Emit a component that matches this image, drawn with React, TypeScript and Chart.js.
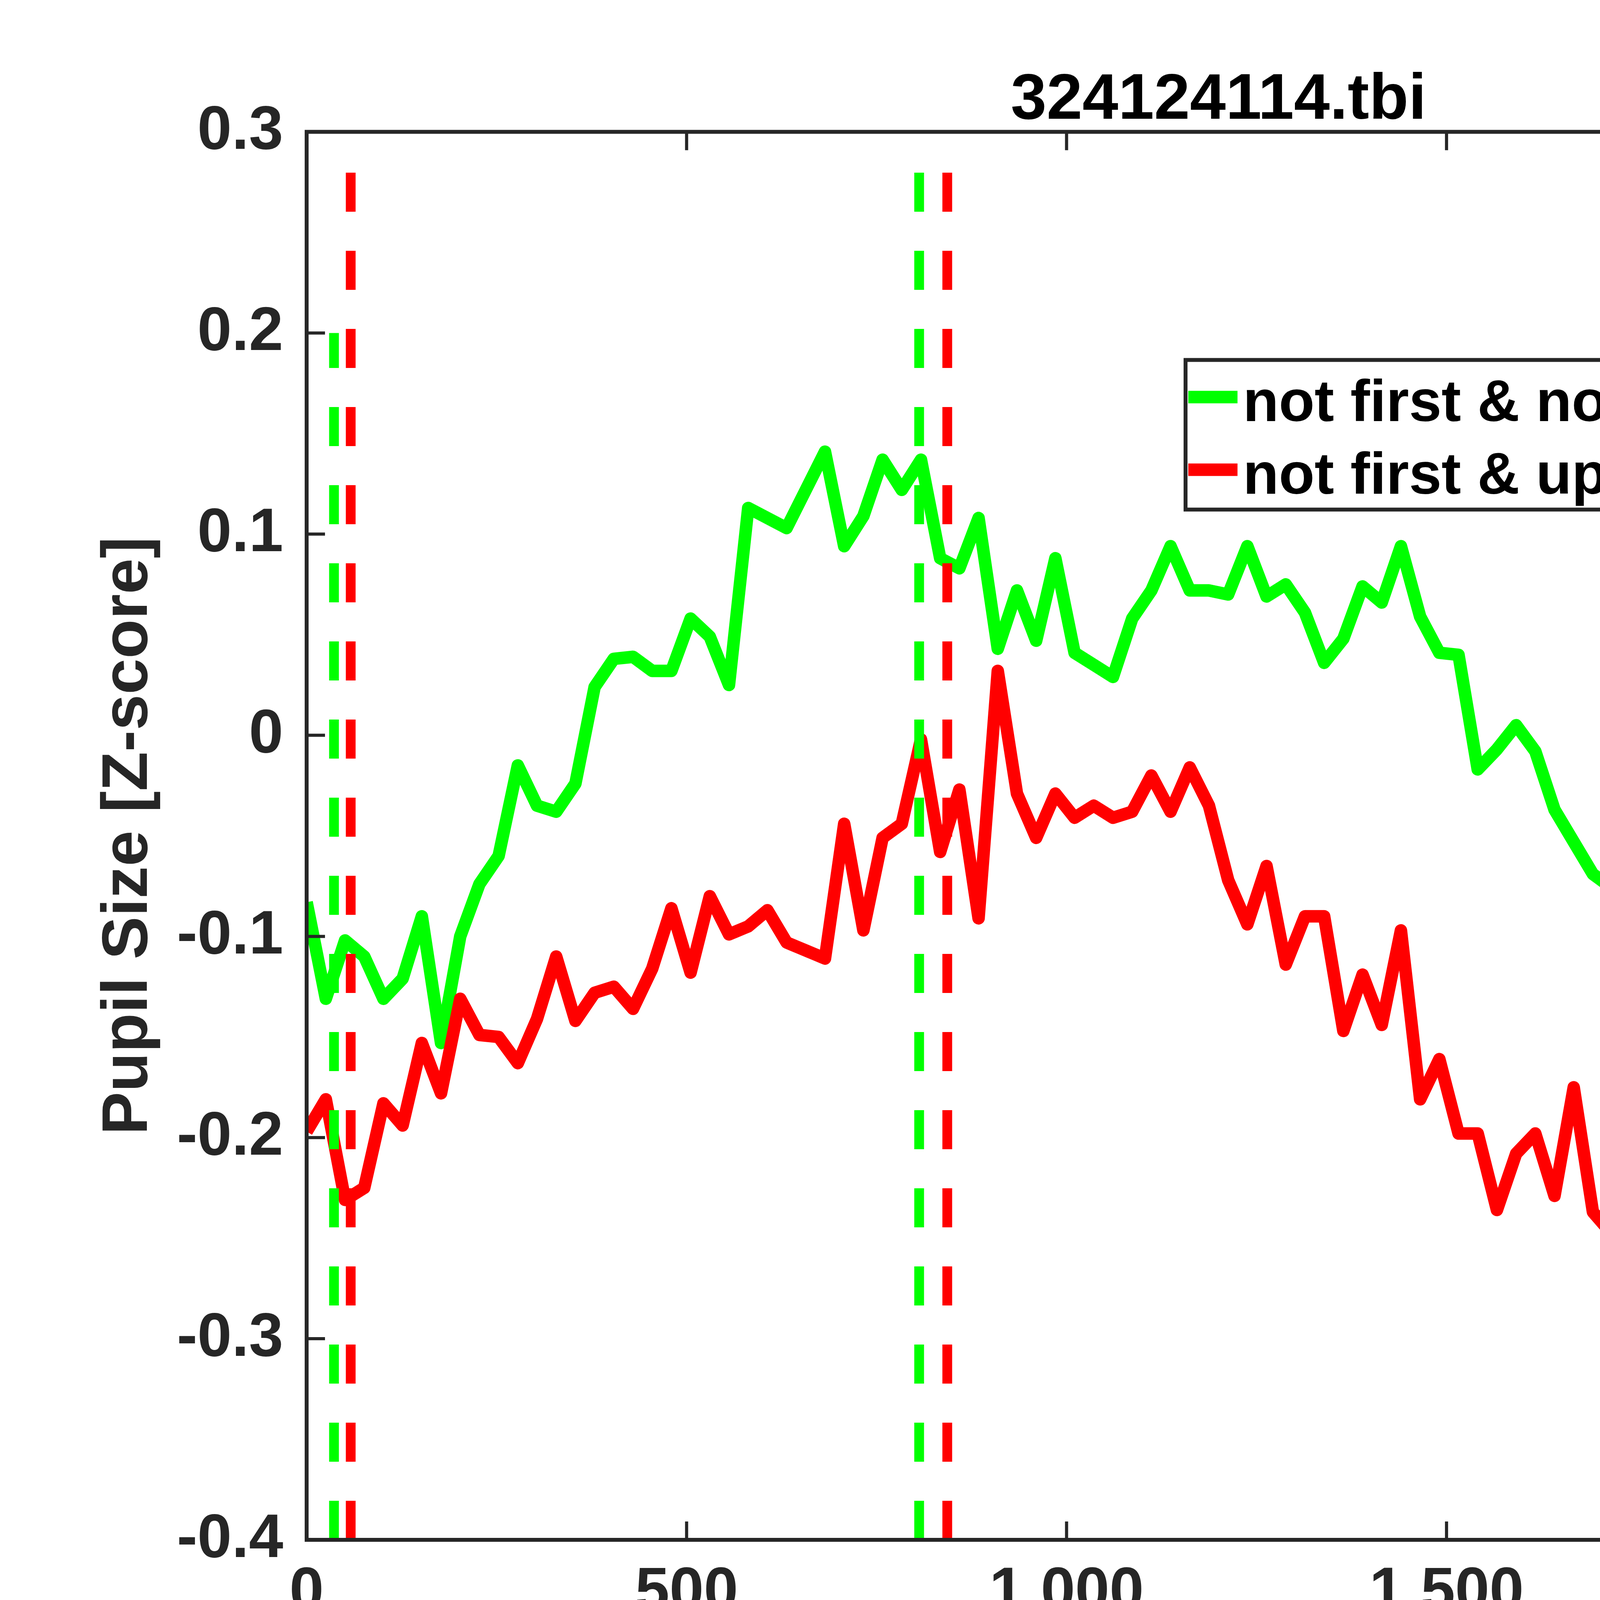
import { useEffect, useRef } from "react"
import { Chart, registerables } from "chart.js"

Chart.register(...registerables)

// samples are evenly spaced over the 2.4 s window
const SAMPLE_MS = 2400 / 95

// not first & no update & correct (green)
const noUpdateCorrect = [
  -0.083, -0.131, -0.102, -0.11, -0.131, -0.121, -0.09, -0.153, -0.1, -0.074,
  -0.06, -0.015, -0.035, -0.038, -0.024, 0.024, 0.038, 0.039, 0.032, 0.032,
  0.058, 0.049, 0.025, 0.113, 0.108, 0.103, 0.122, 0.141, 0.094, 0.109,
  0.137, 0.122, 0.137, 0.088, 0.083, 0.108, 0.043, 0.072, 0.047, 0.088,
  0.041, 0.035, 0.029, 0.058, 0.072, 0.094, 0.072, 0.072, 0.07, 0.094,
  0.069, 0.075, 0.061, 0.036, 0.048, 0.074, 0.066, 0.094, 0.059, 0.041,
  0.04, -0.017, -0.007, 0.005, -0.008, -0.037, -0.053, -0.069, -0.076, -0.052,
  -0.064, -0.017, -0.02, 0.011, -0.03, -0.07, -0.007, -0.04, -0.056, -0.008,
  -0.057, -0.012, -0.047, -0.008, -0.059, -0.043, -0.004, 0.011, 0.025, 0.033,
  0.014, 0.02, 0.044, 0.055,
]

// not first & update & correct (red)
const updateCorrect = [
  -0.197, -0.181, -0.231, -0.225, -0.183, -0.194, -0.153, -0.178, -0.131, -0.149,
  -0.15, -0.163, -0.141, -0.11, -0.142, -0.128, -0.125, -0.136, -0.116, -0.086,
  -0.118, -0.08, -0.099, -0.095, -0.087, -0.103, -0.107, -0.111, -0.044, -0.097,
  -0.051, -0.044, -0.002, -0.058, -0.027, -0.091, 0.032, -0.029, -0.051, -0.029,
  -0.041, -0.035, -0.041, -0.038, -0.02, -0.038, -0.016, -0.035, -0.072, -0.094,
  -0.065, -0.114, -0.09, -0.09, -0.147, -0.119, -0.144, -0.097, -0.181, -0.161,
  -0.198, -0.198, -0.236, -0.208, -0.198, -0.229, -0.175, -0.237, -0.248, -0.274,
  -0.301, -0.231, -0.197, -0.17, -0.184, -0.159, -0.144, -0.139, -0.093, -0.147,
  -0.091, -0.113, -0.02, 0.007, -0.057, -0.118, -0.054, -0.082, -0.047, -0.054,
  -0.044, -0.035, -0.018, -0.002, 0.046, 0.001,
]

// event markers (ms) and the height each dashed line reaches
const noUpdateEvents = [36, 806, 2271]
const noUpdateEventTops = [0.2, 0.3, 0.3]
const updateEvents = [58, 843, 2352]
const updateEventTops = [0.3, 0.3, 0.3]

const xTicks = [0, 500, 1000, 1500, 2000]
const yTicks = [-0.4, -0.3, -0.2, -0.1, 0, 0.1, 0.2, 0.3]

const GREEN = "#00ff00"
const RED = "#ff0000"
const AXIS = "#262626"
const FONT = "'Liberation Sans', Arial, sans-serif"

const toPoints = (values: number[]) =>
  values.map((v, i) => ({ x: i * SAMPLE_MS, y: v }))

const eventLine = (t: number, top: number, color: string) => ({
  data: [
    { x: t, y: -0.4 },
    { x: t, y: top },
  ],
  borderColor: color,
  borderWidth: 25,
  borderDash: [100, 100],
  borderCapStyle: "butt" as const,
  pointRadius: 0,
  order: 0,
})

// axes box with inward ticks on all four sides
const matlabFrame = {
  id: "matlabFrame",
  afterDatasetsDraw(chart: any) {
    const { ctx, chartArea, scales } = chart
    const { left, right, top, bottom } = chartArea
    ctx.save()
    ctx.strokeStyle = AXIS
    ctx.lineWidth = 8
    ctx.beginPath()
    for (const v of xTicks) {
      const px = scales.x.getPixelForValue(v)
      ctx.moveTo(px, bottom)
      ctx.lineTo(px, bottom - 47)
      ctx.moveTo(px, top)
      ctx.lineTo(px, top + 47)
    }
    for (const v of yTicks) {
      const py = scales.y.getPixelForValue(v)
      ctx.moveTo(left, py)
      ctx.lineTo(left + 47, py)
      ctx.moveTo(right, py)
      ctx.lineTo(right - 47, py)
    }
    ctx.stroke()
    ctx.lineWidth = 10
    ctx.strokeRect(left, top, right - left, bottom - top)
    ctx.restore()
  },
}

// boxed legend inside the plot, upper right
const boxLegend = {
  id: "boxLegend",
  afterDraw(chart: any) {
    const { ctx, chartArea } = chart
    const entries = chart.data.datasets.filter((d: any) => d.label)
    const w = 2325
    const h = 383
    const x0 = chartArea.right - 94 - w
    const y0 = chartArea.top + 584
    ctx.save()
    ctx.fillStyle = "#ffffff"
    ctx.fillRect(x0, y0, w, h)
    ctx.strokeStyle = AXIS
    ctx.lineWidth = 10
    ctx.strokeRect(x0, y0, w, h)
    ctx.font = `bold 150px ${FONT}`
    ctx.textBaseline = "alphabetic"
    ctx.textAlign = "left"
    entries.forEach((d: any, i: number) => {
      const ly = y0 + 95 + i * 186
      ctx.strokeStyle = d.borderColor
      ctx.lineWidth = 32
      ctx.beginPath()
      ctx.moveTo(x0 + 7, ly)
      ctx.lineTo(x0 + 133, ly)
      ctx.stroke()
      ctx.fillStyle = "#000000"
      ctx.fillText(d.label, x0 + 147, y0 + 156 + i * 186)
    })
    ctx.restore()
  },
}

export default function App() {
  const chartRef = useRef<HTMLCanvasElement>(null)

  useEffect(() => {
    if (!chartRef.current) return

    const chart = new Chart(chartRef.current, {
      type: "line",
      data: {
        datasets: [
          ...noUpdateEvents.map((t, i) => eventLine(t, noUpdateEventTops[i], GREEN)),
          ...updateEvents.map((t, i) => eventLine(t, updateEventTops[i], RED)),
          {
            label: "not first & no update & correct",
            data: toPoints(noUpdateCorrect),
            borderColor: GREEN,
            borderWidth: 32,
            borderJoinStyle: "round",
            pointRadius: 0,
            tension: 0,
            order: 3,
          },
          {
            label: "not first & update & correct",
            data: toPoints(updateCorrect),
            borderColor: RED,
            borderWidth: 32,
            borderJoinStyle: "round",
            pointRadius: 0,
            tension: 0,
            order: 2,
          },
        ] as any,
      },
      options: {
        animation: false,
        responsive: true,
        maintainAspectRatio: false,
        devicePixelRatio: 1,
        layout: {
          padding: { left: 0, top: 0, right: 546, bottom: 0 },
        },
        plugins: {
          legend: { display: false },
          tooltip: { enabled: false },
          title: {
            display: true,
            text: "324124114.tbi",
            color: "#000000",
            fullSize: false,
            font: { family: FONT, size: 165, weight: "bold", lineHeight: 0.9 },
            padding: { top: 184, bottom: 5 },
          },
        },
        scales: {
          x: {
            type: "linear",
            min: 0,
            max: 2400,
            grid: { display: false, drawTicks: false },
            border: { display: false },
            afterBuildTicks: (scale: any) => {
              scale.ticks = xTicks.map((v) => ({ value: v }))
            },
            afterFit: (scale: any) => {
              scale.height = 558
            },
            ticks: {
              padding: 42,
              color: AXIS,
              maxRotation: 0,
              font: { family: FONT, size: 158, weight: "bold" },
              callback: (v: any) => Number(v).toLocaleString("en-US"),
            },
            title: {
              display: true,
              text: "Time [ms]",
              color: AXIS,
              font: { family: FONT, size: 165, weight: "bold", lineHeight: 1 },
              padding: { top: 0, bottom: 98 },
            },
          },
          y: {
            type: "linear",
            min: -0.4,
            max: 0.3,
            grid: { display: false, drawTicks: false },
            border: { display: false },
            afterBuildTicks: (scale: any) => {
              scale.ticks = yTicks.map((v) => ({ value: v }))
            },
            afterFit: (scale: any) => {
              scale.width = 785
            },
            ticks: {
              padding: 60,
              color: AXIS,
              font: { family: FONT, size: 158, weight: "bold" },
              callback: (v: any) => String(Number(Number(v).toFixed(1))),
            },
            title: {
              display: true,
              text: "Pupil Size [Z-score]",
              color: AXIS,
              font: { family: FONT, size: 165, weight: "bold", lineHeight: 1 },
              padding: { top: 248, bottom: 0 },
            },
          },
        },
      },
      plugins: [matlabFrame, boxLegend],
    })

    return () => {
      chart.destroy()
    }
  }, [])

  return (
    <div
      style={{
        position: "absolute",
        left: 0,
        top: 0,
        width: 6000,
        height: 4500,
        background: "#ffffff",
      }}
    >
      <canvas ref={chartRef} />
    </div>
  )
}
